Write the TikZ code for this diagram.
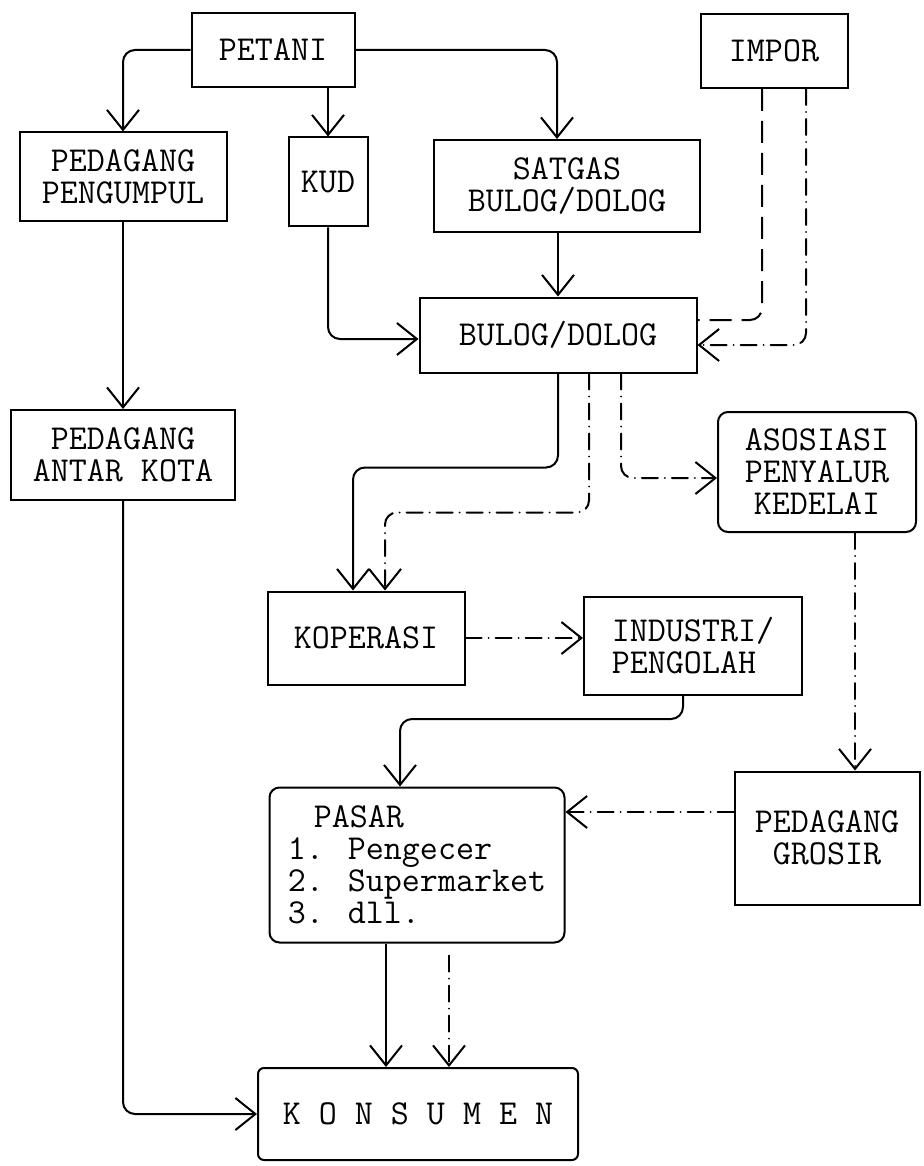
\documentclass[tikz,border=0pt]{standalone}
\usepackage{fontspec}
\usetikzlibrary{arrows.meta}

\tikzset{
  box/.style={draw, line width=1pt, font=\ttfamily\fontsize{17.5}{16}\selectfont, align=center, inner sep=0pt},
  rbox/.style={box, rounded corners=5pt},
  flow/.style={line width=1pt, rounded corners=6pt, -{Straight Barb[length=10pt,width=16pt,line width=1pt]}},
  dashline/.style={line width=1pt, rounded corners=6pt, dash pattern=on 11pt off 5pt},
  dotline/.style={flow, line cap=round, dash pattern=on 8pt off 3.5pt on 0pt off 3.5pt},
}

\begin{document}
\begin{tikzpicture}[x=0.5pt,y=-0.5pt]
		\useasboundingbox (0,0) rectangle (924,1166);
		% boxes
		\node [box, minimum width=81.5pt, minimum height=37pt] (petani) at (273,50) {PETANI};
		\node [box, minimum width=73.5pt, minimum height=37pt] (impor) at (774,51) {IMPOR};
		\node [box, minimum width=103.5pt, minimum height=44.5pt] (pengumpul) at (123,177) {PEDAGANG\\PENGUMPUL};
		\node [box, minimum width=39.5pt, minimum height=44.5pt] (kud) at (328,182) {KUD};
		\node [box, minimum width=133pt, minimum height=46pt] (satgas) at (567,186) {SATGAS\\BULOG/DOLOG};
		\node [box, minimum width=138.5pt, minimum height=37.5pt] (bulog) at (558,335) {BULOG/DOLOG};
		\node [box, minimum width=112pt, minimum height=45pt] (antarkota) at (123,455) {PEDAGANG\\ANTAR KOTA};
		\node [rbox, minimum width=99pt, minimum height=60pt] (asosiasi) at (817,472) {ASOSIASI\\PENYALUR\\KEDELAI};
		\node [box, minimum width=98.5pt, minimum height=46.5pt] (koperasi) at (366,638) {KOPERASI};
		\node [box, align=left, minimum width=109pt, minimum height=49pt] (industri) at (693,646) {INDUSTRI/\\PENGOLAH};
		\node [rbox, align=left, minimum width=147.5pt, minimum height=77.5pt] (pasar) at (417,865)
			{\hspace*{13pt}PASAR\\1. Pengecer\\2. Supermarket\\3. dll.};
		\node [box, minimum width=92.5pt, minimum height=66.5pt] (grosir) at (827,838) {PEDAGANG\\GROSIR};
		\node [rbox, rounded corners=3pt, minimum width=160pt, minimum height=46pt] (konsumen) at (418,1114) {K O N S U M E N};
		% solid flows
		\draw [flow] (petani.west) -| (pengumpul.north);
		\draw [flow] (kud.north |- petani.south) -- (kud.north);
		\draw [flow] (petani.east) -| ([xshift=-5pt]satgas.north);
		\draw [flow] (pengumpul.south) -- (antarkota.north);
		\draw [flow] (kud.south) |- ([yshift=-2pt]bulog.west);
		\draw [flow] (bulog.north |- satgas.south) -- (bulog.north);
		\draw [flow] (bulog.south) -- ++(0,94) -| ([xshift=-6.5pt]koperasi.north);
		\draw [flow] ([xshift=-5pt]industri.south) -- ++(0,23) -| ([xshift=-8.5pt]pasar.north);
		\draw [flow] ([xshift=-15.5pt]pasar.south) -- ([xshift=-16pt]konsumen.north);
		\draw [flow] (antarkota.south) |- (konsumen.west);
		% dashed and dotted flows
		\draw [dashline] ([xshift=-6pt]impor.south) |- ([yshift=7.5pt]bulog.east);
		\draw [dotline] ([xshift=16pt]impor.south) |- ([yshift=-5pt]bulog.east);
		\draw [dotline] ([xshift=15.5pt]bulog.south) -- ++(0,139) -| ([xshift=9.5pt]koperasi.north);
		\draw [dotline] ([xshift=31.5pt]bulog.south) |- ([yshift=-3pt]asosiasi.west);
		\draw [dotline] (koperasi.east) -- (koperasi.east -| industri.west);
		\draw [dotline] ([xshift=19pt]asosiasi.south) -- ([xshift=14pt]grosir.north);
		\draw [dotline] ([yshift=13pt]grosir.west) -- ([yshift=26.5pt]pasar.east);
		\draw [dotline] ([xshift=16pt,yshift=-6pt]pasar.south) -- ([xshift=15.5pt]konsumen.north);
\end{tikzpicture}
\end{document}
